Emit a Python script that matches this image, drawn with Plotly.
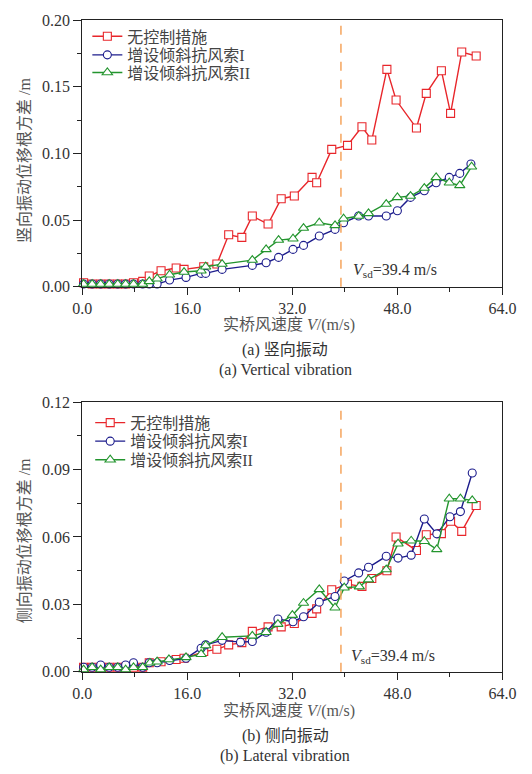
import plotly.graph_objects as go

W, H = 532, 774

# ---------------- data: (a) vertical vibration ----------------
va_red_x = [0.2, 1.5, 2.8, 4.1, 5.4, 6.6, 7.8, 9.2, 10.2, 12.0, 14.3, 15.5, 18.5, 20.5, 22.3, 24.3, 25.9, 28.3,
            30.3, 32.3, 35.0, 35.7, 38.0, 40.4, 42.6, 44.1, 46.4, 47.8, 50.9, 52.4, 54.7, 56.1, 57.8, 60.0]
va_red_y = [0.003, 0.002, 0.002, 0.002, 0.002, 0.002, 0.003, 0.004, 0.008, 0.012, 0.014, 0.013, 0.015, 0.017,
            0.039, 0.037, 0.053, 0.047, 0.066, 0.068, 0.082, 0.078, 0.103, 0.106, 0.120, 0.110, 0.163, 0.140,
            0.119, 0.145, 0.162, 0.130, 0.176, 0.173]

va_blue_x = [0.2, 1.5, 2.8, 4.1, 5.4, 6.6, 7.8, 9.2, 10.2, 11.4, 13.3, 15.8, 18.1, 18.8, 21.3, 25.9, 28.0, 29.9,
             32.1, 33.7, 36.1, 38.5, 39.8, 42.1, 43.6, 46.3, 48.0, 50.0, 52.1, 53.9, 55.9, 57.5, 59.2]
va_blue_y = [0.002, 0.002, 0.002, 0.002, 0.002, 0.002, 0.002, 0.002, 0.002, 0.002, 0.005, 0.007, 0.010, 0.010,
             0.013, 0.016, 0.018, 0.022, 0.028, 0.031, 0.038, 0.043, 0.048, 0.053, 0.053, 0.053, 0.057, 0.067,
             0.072, 0.078, 0.082, 0.085, 0.092]

va_green_x = [0.2, 1.5, 2.8, 4.1, 5.4, 6.6, 7.8, 9.2, 10.2, 11.4, 13.3, 15.5, 18.1, 18.8, 21.3, 25.9, 28.0, 29.9,
              32.1, 33.7, 36.1, 38.5, 39.8, 42.1, 43.6, 46.3, 48.0, 50.0, 52.1, 53.9, 55.9, 57.5, 59.3]
va_green_y = [0.002, 0.002, 0.002, 0.002, 0.002, 0.002, 0.002, 0.002, 0.004, 0.006, 0.009, 0.011, 0.012, 0.015,
              0.017, 0.020, 0.028, 0.035, 0.036, 0.044, 0.048, 0.046, 0.051, 0.053, 0.055, 0.062, 0.067, 0.068,
              0.074, 0.082, 0.078, 0.076, 0.090]

# ---------------- data: (b) lateral vibration ----------------
lb_red_x = [0.2, 1.5, 2.8, 4.1, 5.4, 6.6, 7.8, 9.2, 10.2, 12.0, 14.3, 15.5, 18.5, 20.5, 22.3, 24.3, 25.9, 28.3,
            30.3, 32.3, 35.0, 35.7, 38.0, 40.4, 42.6, 44.1, 46.4, 47.8, 50.9, 52.4, 54.7, 56.1, 57.8, 60.0]
lb_red_y = [0.002, 0.002, 0.002, 0.002, 0.002, 0.002, 0.002, 0.002, 0.004, 0.0045, 0.0055, 0.006, 0.009, 0.010,
            0.012, 0.013, 0.018, 0.020, 0.020, 0.0215, 0.026, 0.028, 0.0365, 0.039, 0.038, 0.0415, 0.045, 0.060,
            0.054, 0.061, 0.0615, 0.067, 0.0625, 0.074]

lb_blue_x = [0.2, 1.5, 2.8, 4.1, 5.4, 6.6, 7.8, 9.2, 10.2, 11.4, 13.3, 15.8, 18.1, 18.8, 21.3, 24.1, 25.9, 28.0,
             29.8, 32.1, 33.7, 36.1, 38.5, 39.9, 42.1, 43.6, 46.3, 48.1, 50.1, 52.1, 54.0, 56.0, 57.6, 59.4]
lb_blue_y = [0.002, 0.002, 0.003, 0.002, 0.002, 0.003, 0.004, 0.002, 0.004, 0.004, 0.005, 0.006, 0.0105, 0.012,
             0.014, 0.0132, 0.0135, 0.0176, 0.0235, 0.0223, 0.0245, 0.031, 0.0335, 0.0404, 0.044, 0.0465, 0.0514,
             0.0506, 0.0519, 0.068, 0.0614, 0.069, 0.0713, 0.0885]

lb_green_x = [0.2, 1.5, 2.8, 4.1, 5.4, 6.6, 7.8, 9.2, 10.3, 11.4, 13.2, 15.8, 18.1, 18.8, 21.3, 25.9, 28.0, 29.8,
              32.0, 33.7, 36.1, 38.5, 39.9, 42.2, 43.6, 46.3, 48.1, 50.1, 52.1, 54.0, 55.9, 57.6, 59.4]
lb_green_y = [0.001, 0.002, 0.001, 0.002, 0.002, 0.001, 0.002, 0.002, 0.004, 0.0045, 0.0055, 0.0064, 0.0078,
              0.0117, 0.0154, 0.016, 0.0176, 0.0212, 0.0252, 0.0306, 0.0367, 0.0285, 0.0374, 0.0379, 0.041, 0.0455,
              0.057, 0.0583, 0.0581, 0.0545, 0.077, 0.077, 0.0763]

series_names = ["无控制措施", "增设倾斜抗风索I", "增设倾斜抗风索II"]
VSD = 39.4
x_ticks = [0, 16, 32, 48, 64]

# ---------------- styling ----------------
FONT = "Liberation Serif, Times New Roman, Noto Sans CJK SC, serif"
RED, BLUE, GREEN = "#e8262b", "#1c1c8c", "#23952e"
ORANGE = "#f5a45c"


def px_x(p):
    return p / W


def px_y(p):
    return 1 - p / H


colors = [RED, BLUE, GREEN]
symbols = ["square", "circle", "triangle-up"]
sizes = [8, 8, 9]

fig = go.Figure()

top_sets = [(va_red_x, va_red_y), (va_blue_x, va_blue_y), (va_green_x, va_green_y)]
bot_sets = [(lb_red_x, lb_red_y), (lb_blue_x, lb_blue_y), (lb_green_x, lb_green_y)]

# one single-entry legend per series so each entry can be placed where the reference shows it
top_leg_rows = [29, 48, 66]
bot_leg_rows = [424, 443, 462]
leg_font = dict(family=FONT, size=16, color="#444444")
legends = {}

for panel, (sets, xa, ya, rows, lx) in enumerate([
        (top_sets, "x", "y", top_leg_rows, 81),
        (bot_sets, "x2", "y2", bot_leg_rows, 84)]):
    for i, (xs, ys) in enumerate(sets):
        k = panel * 3 + i + 1
        lname = "legend" if k == 1 else f"legend{k}"
        fig.add_trace(go.Scatter(
            x=xs, y=ys, mode="lines+markers", name=series_names[i], xaxis=xa, yaxis=ya,
            line=dict(color=colors[i], width=1.4),
            marker=dict(symbol=symbols[i], size=sizes[i], color="white",
                        line=dict(color=colors[i], width=1.1)),
            legend=lname, cliponaxis=False))
        legends[lname] = dict(x=px_x(lx), y=px_y(rows[i]), xanchor="left", yanchor="middle",
                              bgcolor="rgba(0,0,0,0)", font=leg_font, itemwidth=30,
                              borderwidth=0)

xdom = [px_x(75.7), px_x(515.7)]
tick_font = dict(family=FONT, size=16, color="#333333")

common_x = dict(range=[0, 64], tickvals=x_ticks, ticktext=[f"{v:.1f}" for v in x_ticks],
                showline=True, linecolor="#222222", linewidth=1.3, mirror=True,
                ticks="outside", ticklen=7, tickwidth=1.2, tickcolor="#222222",
                minor=dict(dtick=8, tick0=0, ticks="outside", ticklen=4, tickwidth=1, tickcolor="#222222"),
                showgrid=False, zeroline=False, tickfont=tick_font, fixedrange=True)
common_y = dict(showline=True, linecolor="#222222", linewidth=1.3, mirror=True,
                ticks="outside", ticklen=8, tickwidth=1.2, tickcolor="#222222",
                showgrid=False, zeroline=False, tickfont=tick_font, tickformat=".2f", fixedrange=True)

fig.update_layout(
    width=W, height=H, margin=dict(l=0, r=0, t=0, b=0),
    paper_bgcolor="white", plot_bgcolor="white",
    xaxis=dict(domain=xdom, anchor="y", **common_x),
    yaxis=dict(domain=[px_y(285), px_y(12.3)], anchor="x", range=[0, 0.2], dtick=0.05, tick0=0,
               minor=dict(dtick=0.025, ticks="outside", ticklen=4, tickwidth=1, tickcolor="#222222"),
               **common_y),
    xaxis2=dict(domain=xdom, anchor="y2", **common_x),
    yaxis2=dict(domain=[px_y(678.7), px_y(403)], anchor="x2", range=[0, 0.12], dtick=0.03, tick0=0,
                minor=dict(dtick=0.015, ticks="outside", ticklen=4, tickwidth=1, tickcolor="#222222"),
                **common_y),
    showlegend=True,
    **legends,
)

# design wind speed lines
for xr, yr in [("x", "y"), ("x2", "y2")]:
    fig.add_shape(type="line", xref=xr, yref=f"{yr} domain", x0=VSD, x1=VSD, y0=0, y1=1,
                  line=dict(color=ORANGE, width=1.5, dash="dash"))

ann_font = dict(family=FONT, size=16, color="#333333")
vsd_text = "<i>V</i><sub>sd</sub>=39.4 m/s"
fig.add_annotation(xref="paper", yref="paper", x=px_x(357), y=px_y(268), xanchor="left", yanchor="middle",
                   text=vsd_text, showarrow=False, font=ann_font)
fig.add_annotation(xref="paper", yref="paper", x=px_x(355), y=px_y(663), xanchor="left", yanchor="middle",
                   text=vsd_text, showarrow=False, font=ann_font)

title_font = dict(family=FONT, size=16, color="#555555")
xtitle = "实桥风速度 <i>V</i>/(m/s)"
for yc in (324, 719):
    fig.add_annotation(xref="paper", yref="paper", x=px_x(292), y=px_y(yc), xanchor="center", yanchor="middle",
                       text=xtitle, showarrow=False, font=title_font)

fig.add_annotation(xref="paper", yref="paper", x=px_x(15), y=px_y(156), xanchor="center", yanchor="middle",
                   text="竖向振动位移根方差 /m", textangle=-90, showarrow=False, font=title_font)
fig.add_annotation(xref="paper", yref="paper", x=px_x(15), y=px_y(545), xanchor="center", yanchor="middle",
                   text="侧向振动位移根方差 /m", textangle=-90, showarrow=False, font=title_font)

cap_font = dict(family=FONT, size=16, color="#333333")
captions = [("(a) 竖向振动", 349.5), ("(a) Vertical vibration", 370),
            ("(b) 侧向振动", 744), ("(b) Lateral vibration", 765)]
for txt, yc in captions:
    fig.add_annotation(xref="paper", yref="paper", x=px_x(288), y=px_y(yc), xanchor="center", yanchor="middle",
                       text=txt, showarrow=False, font=cap_font)

fig.write_html("out.html")
